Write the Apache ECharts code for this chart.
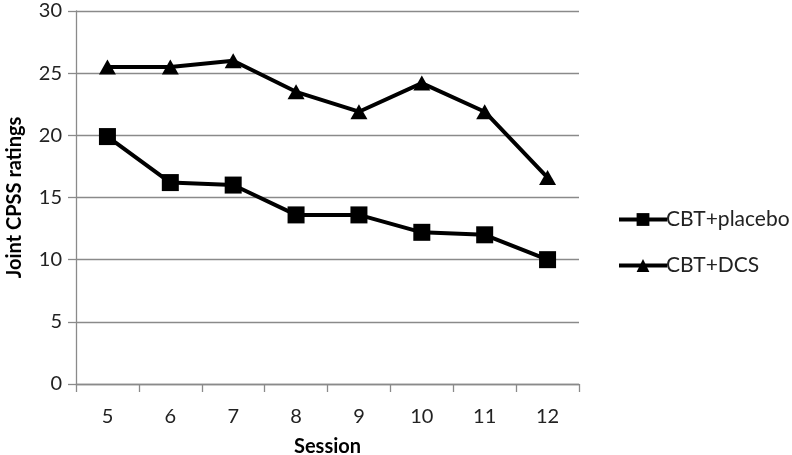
<!DOCTYPE html>
<html><head><meta charset="utf-8">
<script src="https://cdn.jsdelivr.net/npm/echarts@6/dist/echarts.min.js"></script>
<style>html,body{margin:0;padding:0;background:#fff}#c{width:792px;height:455px}</style>
</head><body><div id="c"></div>
<script>
const sessions = ['5','6','7','8','9','10','11','12'];
const placebo = [19.9, 16.2, 16.0, 13.6, 13.6, 12.2, 12.0, 10.0];
const dcs = [25.5, 25.5, 26.0, 23.5, 21.9, 24.2, 21.9, 16.6];
const yTicks = [0, 5, 10, 15, 20, 25, 30];
const FONT = 'Lato, "Open Sans", sans-serif';
const chart = echarts.init(document.getElementById('c'));
const gridCol = '#8a8a8a';
chart.setOption({
  animation: false,
  backgroundColor: '#fff',
  grid: {left: 76, top: 11, width: 503, height: 373, containLabel: false, outerBoundsMode: 'none'},
  xAxis: {
    type: 'category', data: sessions, boundaryGap: true,
    name: 'Session', nameLocation: 'middle', nameGap: 53,
    nameTextStyle: {fontFamily: FONT, fontWeight: 'bold', fontSize: 20, color: '#000'},
    axisLine: {lineStyle: {color: gridCol, width: 1.3}},
    axisTick: {show: true, length: 8, inside: false, lineStyle: {color: gridCol, width: 1.3}},
    axisLabel: {fontFamily: FONT, fontSize: 20, color: '#222', margin: 23}
  },
  yAxis: {
    type: 'value', min: yTicks[0], max: yTicks[yTicks.length-1], interval: 5,
    name: 'Joint CPSS ratings', nameLocation: 'middle', nameGap: 51, nameRotate: 90,
    nameTextStyle: {fontFamily: FONT, fontWeight: 'bold', fontSize: 20, color: '#000'},
    axisLine: {show: true, lineStyle: {color: gridCol, width: 1.3}},
    axisTick: {show: true, length: 8, lineStyle: {color: gridCol, width: 1.3}},
    axisLabel: {fontFamily: FONT, fontSize: 20, color: '#222', margin: 14},
    splitLine: {show: true, lineStyle: {color: gridCol, width: 1.3}}
  },
  legend: {
    orient: 'vertical', left: 612, top: 204, itemGap: 25,
    itemWidth: 48, itemHeight: 16,
    lineStyle: {width: 4, color: '#000'},
    textStyle: {fontFamily: FONT, fontSize: 21, color: '#222', padding: [0,0,0,-6]},
    data: ['CBT+placebo', 'CBT+DCS']
  },
  series: [
    {name: 'CBT+placebo', type: 'line', data: placebo, symbol: 'rect', symbolSize: 17,
     lineStyle: {color: '#000', width: 4}, itemStyle: {color: '#000'}},
    {name: 'CBT+DCS', type: 'line', data: dcs, symbol: 'triangle', symbolSize: [17, 15],
     lineStyle: {color: '#000', width: 4}, itemStyle: {color: '#000'}}
  ]
});
</script></body></html>
